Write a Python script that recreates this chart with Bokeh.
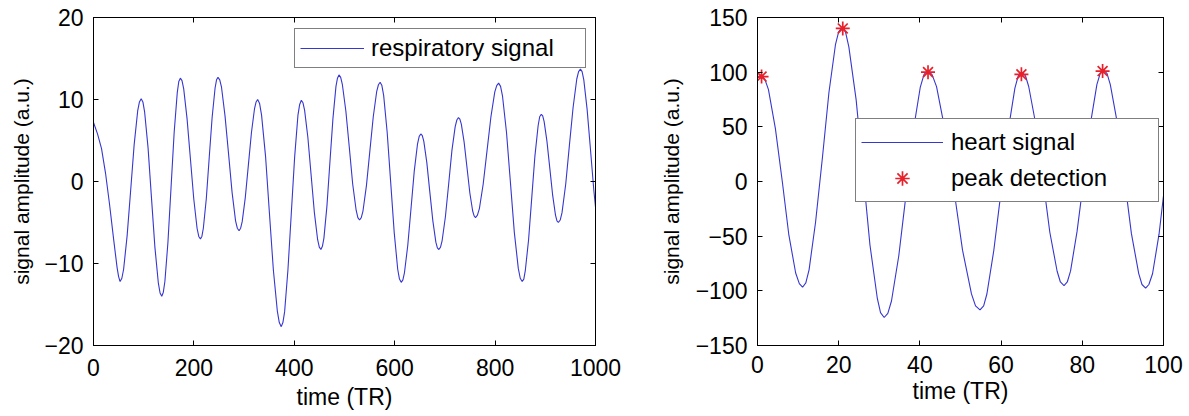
from bokeh.plotting import figure
from bokeh.models import Range1d, FixedTicker, LinearAxis, Legend, LegendItem
from bokeh.layouts import row
from bokeh.embed import file_html
from bokeh.resources import INLINE

# ---------------- data ----------------
# respiratory signal (left panel)
resp_t = [0, 8, 16, 24, 32, 40, 47, 50, 53, 56.5, 60, 67, 74, 81, 88, 91.5, 95,
          98.4, 101.8, 108.7, 115.5, 122.3, 129.2, 132.6, 136,
          139.1, 142.2, 148.3, 154.5, 160.7, 166.8, 169.9, 173,
          176.3, 179.7, 186.3, 193, 199.7, 206.3, 209.7, 213,
          215.9, 218.8, 224.7, 230.5, 236.3, 242.2, 245.1, 248,
          251.5, 255, 262, 269, 276, 283, 286.5, 290,
          293.1, 296.2, 302.3, 308.5, 314.7, 320.8, 323.9, 327,
          330.9, 334.8, 342.7, 350.5, 358.3, 366.2, 370.1, 374,
          377.3, 380.7, 387.3, 394, 400.7, 407.3, 410.7, 414,
          417.3, 420.5, 427, 433.5, 440, 446.5, 449.8, 453,
          456, 459, 465, 471, 477, 483, 486, 489,
          492.4, 495.8, 502.7, 509.5, 516.3, 523.2, 526.6, 530,
          533.4, 536.8, 543.7, 550.5, 557.3, 564.2, 567.6, 571,
          574.5, 578, 585, 592, 599, 606, 609.5, 613,
          616.3, 619.5, 626, 632.5, 639, 645.5, 648.8, 652,
          655, 658, 664, 670, 676, 682, 685, 688,
          691.3, 694.5, 701, 707.5, 714, 720.5, 723.8, 727,
          729.8, 732.7, 738.3, 744, 749.7, 755.3, 758.2, 761,
          764.8, 768.7, 776.3, 784, 791.7, 799.3, 803.2, 807,
          810.9, 814.8, 822.7, 830.5, 838.3, 846.2, 850.1, 854,
          857.2, 860.3, 866.7, 873, 879.3, 885.7, 888.8, 892,
          894.8, 897.7, 903.3, 909, 914.7, 920.3, 923.2, 926,
          929.7, 933.3, 940.7, 948, 955.3, 962.7, 966.3, 970,
          973.3, 976.7, 983.3, 990, 996.7, 1000]
resp_v = [7.2, 5.8, 4.0, 1.0, -2.8, -7.0, -10.5, -11.6, -12.2, -11.8, -10.7, -6.6, -1.1, 4.5, 8.6, 9.7, 10.1,
          9.7, 8.5, 4.1, -2.0, -8.0, -12.4, -13.6, -14.0,
          -13.5, -12.2, -7.4, -0.7, 6.0, 10.8, 12.2, 12.6,
          12.3, 11.3, 7.7, 2.8, -2.1, -5.7, -6.7, -7.0,
          -6.7, -5.7, -2.1, 2.9, 7.8, 11.4, 12.4, 12.7,
          12.4, 11.5, 8.0, 3.4, -1.3, -4.8, -5.7, -6.0,
          -5.7, -4.9, -2.0, 2.0, 6.0, 8.9, 9.7, 10.0,
          9.5, 8.1, 3.1, -3.9, -10.8, -15.8, -17.2, -17.7,
          -17.2, -15.9, -10.8, -3.9, 3.0, 8.1, 9.4, 9.9,
          9.6, 8.7, 5.4, 0.8, -3.8, -7.1, -8.0, -8.3,
          -7.9, -6.9, -3.0, 2.4, 7.7, 11.6, 12.6, 13.0,
          12.7, 11.8, 8.6, 4.2, -0.3, -3.5, -4.4, -4.7,
          -4.4, -3.6, -0.5, 3.7, 7.9, 11.0, 11.8, 12.1,
          11.7, 10.5, 6.0, -0.1, -6.2, -10.7, -11.9, -12.3,
          -12.0, -11.1, -7.8, -3.3, 1.3, 4.6, 5.5, 5.8,
          5.6, 4.9, 2.3, -1.3, -4.8, -7.4, -8.1, -8.3,
          -8.0, -7.2, -4.3, -0.3, 3.8, 6.7, 7.5, 7.8,
          7.6, 7.0, 4.8, 1.7, -1.4, -3.6, -4.2, -4.4,
          -4.1, -3.3, -0.3, 3.8, 7.9, 10.9, 11.7, 12.0,
          11.6, 10.4, 6.0, -0.1, -6.2, -10.6, -11.8, -12.2,
          -11.9, -10.8, -7.1, -2.0, 3.1, 6.8, 7.9, 8.2,
          8.0, 7.3, 4.9, 1.6, -1.7, -4.1, -4.8, -5.0,
          -4.7, -3.8, -0.3, 4.4, 9.0, 12.5, 13.4, 13.7,
          13.4, 12.4, 8.8, 3.9, -1.1, -3.1]

# heart signal (right panel)
heart_t = [0, 1, 1.8, 2.7, 4.4, 6.1, 7.7, 9.4, 10.3, 11.1,
           11.9, 12.7, 14.3, 16.0, 17.6, 19.2, 20.0, 20.8,
           21.7, 22.5, 24.3, 26.0, 27.7, 29.5, 30.3, 31.2,
           32.1, 33.0, 34.8, 36.6, 38.3, 40.1, 41.0, 41.9,
           43.0, 44.1, 46.2, 48.4, 50.5, 52.7, 53.7, 54.8,
           55.7, 56.5, 58.2, 60.0, 61.7, 63.4, 64.2, 65.1,
           66.0, 66.8, 68.6, 70.3, 72.0, 73.8, 74.6, 75.5,
           76.3, 77.1, 78.7, 80.4, 82.0, 83.6, 84.4, 85.2,
           86.1, 86.9, 88.7, 90.4, 92.1, 93.9, 94.7, 95.6,
           96.4, 97.3, 98.9, 100]
heart_v = [95, 96.5, 93.7, 84.0, 48.6, 0.2, -48.3, -83.7, -93.4, -96.7,
           -92.7, -80.8, -37.3, 22.2, 81.6, 125.1, 137.0, 141.0,
           136.5, 123.2, 74.7, 8.3, -58.1, -106.6, -119.9, -124.4,
           -120.6, -109.3, -67.9, -11.5, 45.0, 86.4, 97.7, 101.5,
           97.8, 86.8, 46.8, -8.0, -62.8, -102.8, -113.8, -117.5,
           -113.8, -102.9, -63.1, -8.8, 45.6, 85.4, 96.3, 100.0,
           96.7, 86.9, 51.2, 2.4, -46.4, -82.1, -91.9, -95.2,
           -91.9, -82.0, -45.9, 3.4, 52.7, 88.8, 98.7, 102.0,
           98.6, 88.6, 52.1, 2.2, -47.7, -84.2, -94.2, -97.6,
           -94.2, -84.4, -48.2, -13]

# detected peaks
peak_t = [1, 21, 42, 65, 85]
peak_v = [96, 140, 100, 98, 101]

# ticks
left_x_ticks = [0, 200, 400, 600, 800, 1000]
left_x_labels = ["0", "200", "400", "600", "800", "1000"]
left_y_ticks = [-20, -10, 0, 10, 20]
left_y_labels = ["\u221220", "\u221210", "0", "10", "20"]
right_x_ticks = [0, 20, 40, 60, 80, 100]
right_x_labels = ["0", "20", "40", "60", "80", "100"]
right_y_ticks = [-150, -100, -50, 0, 50, 100, 150]
right_y_labels = ["\u2212150", "\u2212100", "\u221250", "0", "50", "100", "150"]

# ---------------- styling ----------------
FONT = "Liberation Sans"
LINE_COLOR = "#3636d0"
STAR_COLOR = "#e8202a"


def style_axes(p, xt, xl, yt, yl, tick_standoff, label_standoff, ylab_standoff):
    p.xgrid.visible = False
    p.ygrid.visible = False
    p.outline_line_color = "black"
    p.outline_line_width = 1
    p.background_fill_color = "white"
    p.border_fill_color = "white"
    for ax, ticks, labels in ((p.xaxis[0], xt, xl), (p.yaxis[0], yt, yl)):
        ax.ticker = FixedTicker(ticks=ticks)
        ax.major_label_overrides = dict(zip(ticks, labels))
        ax.major_tick_in = 5
        ax.major_tick_out = 0
        ax.minor_tick_in = 0
        ax.minor_tick_out = 0
        ax.axis_line_color = "black"
        ax.major_tick_line_color = "black"
        ax.major_label_text_font = FONT
        ax.major_label_text_font_size = "23px"
        ax.major_label_text_color = "black"
        ax.axis_label_text_font = FONT
        ax.axis_label_text_font_style = "normal"
        ax.axis_label_text_color = "black"
    p.xaxis[0].axis_label = "time (TR)"
    p.xaxis[0].axis_label_text_font_size = "23px"
    p.xaxis[0].major_label_standoff = tick_standoff
    p.xaxis[0].axis_label_standoff = label_standoff
    p.yaxis[0].axis_label = "signal amplitude (a.u.)"
    p.yaxis[0].axis_label_text_font_size = "21px"
    p.yaxis[0].major_label_standoff = 10
    p.yaxis[0].axis_label_standoff = ylab_standoff
    # mirrored tick marks (box on)
    for loc, ticks in (("above", xt), ("right", yt)):
        ax = LinearAxis(ticker=FixedTicker(ticks=ticks),
                        major_label_overrides={t: "" for t in ticks},
                        major_label_text_font_size="1px",
                        major_label_standoff=0,
                        major_tick_in=5, major_tick_out=0,
                        minor_tick_in=0, minor_tick_out=0,
                        axis_line_color="black",
                        major_tick_line_color="black")
        p.add_layout(ax, loc)


# ---------------- left panel ----------------
p1 = figure(width=625, height=416,
            x_range=Range1d(0, 1000), y_range=Range1d(-20, 20),
            output_backend="svg", toolbar_location=None,
            min_border_left=93, min_border_right=30,
            min_border_top=17, min_border_bottom=71)
style_axes(p1, left_x_ticks, left_x_labels, left_y_ticks, left_y_labels, 13, 5, 8)
r1 = p1.line(resp_t, resp_v, line_color=LINE_COLOR, line_width=1.1)
leg1 = Legend(items=[LegendItem(label="respiratory signal", renderers=[r1])],
              location=(201, 277), margin=0, padding=5, spacing=0,
              glyph_width=64, glyph_height=28, label_height=28,
              label_width=209, label_standoff=7,
              label_text_font=FONT, label_text_font_size="24px",
              label_text_color="black",
              border_line_color="black", border_line_width=1,
              background_fill_color="white", background_fill_alpha=1)
p1.add_layout(leg1)

# ---------------- right panel ----------------
p2 = figure(width=562, height=416,
            x_range=Range1d(0, 100), y_range=Range1d(-150, 150),
            output_backend="svg", toolbar_location=None,
            min_border_left=132, min_border_right=24,
            min_border_top=12, min_border_bottom=68)
style_axes(p2, right_x_ticks, right_x_labels, right_y_ticks, right_y_labels, 10, 2, 10)
r2 = p2.line(heart_t, heart_v, line_color=LINE_COLOR, line_width=1.1)
r3 = p2.scatter(peak_t, peak_v, marker="asterisk", size=14,
                line_color=STAR_COLOR, line_width=1.7)
leg2 = Legend(items=[LegendItem(label="heart signal", renderers=[r2]),
                     LegendItem(label="peak detection", renderers=[r3])],
              location=(98, 143), margin=0, padding=5, spacing=0,
              glyph_width=82, glyph_height=36, label_height=36,
              label_width=202, label_standoff=8,
              label_text_font=FONT, label_text_font_size="24px",
              label_text_color="black",
              border_line_color="black", border_line_width=1,
              background_fill_color="white", background_fill_alpha=1)
p2.add_layout(leg2)

layout = row(p1, p2)
open("out.html", "w").write(file_html(layout, INLINE))
